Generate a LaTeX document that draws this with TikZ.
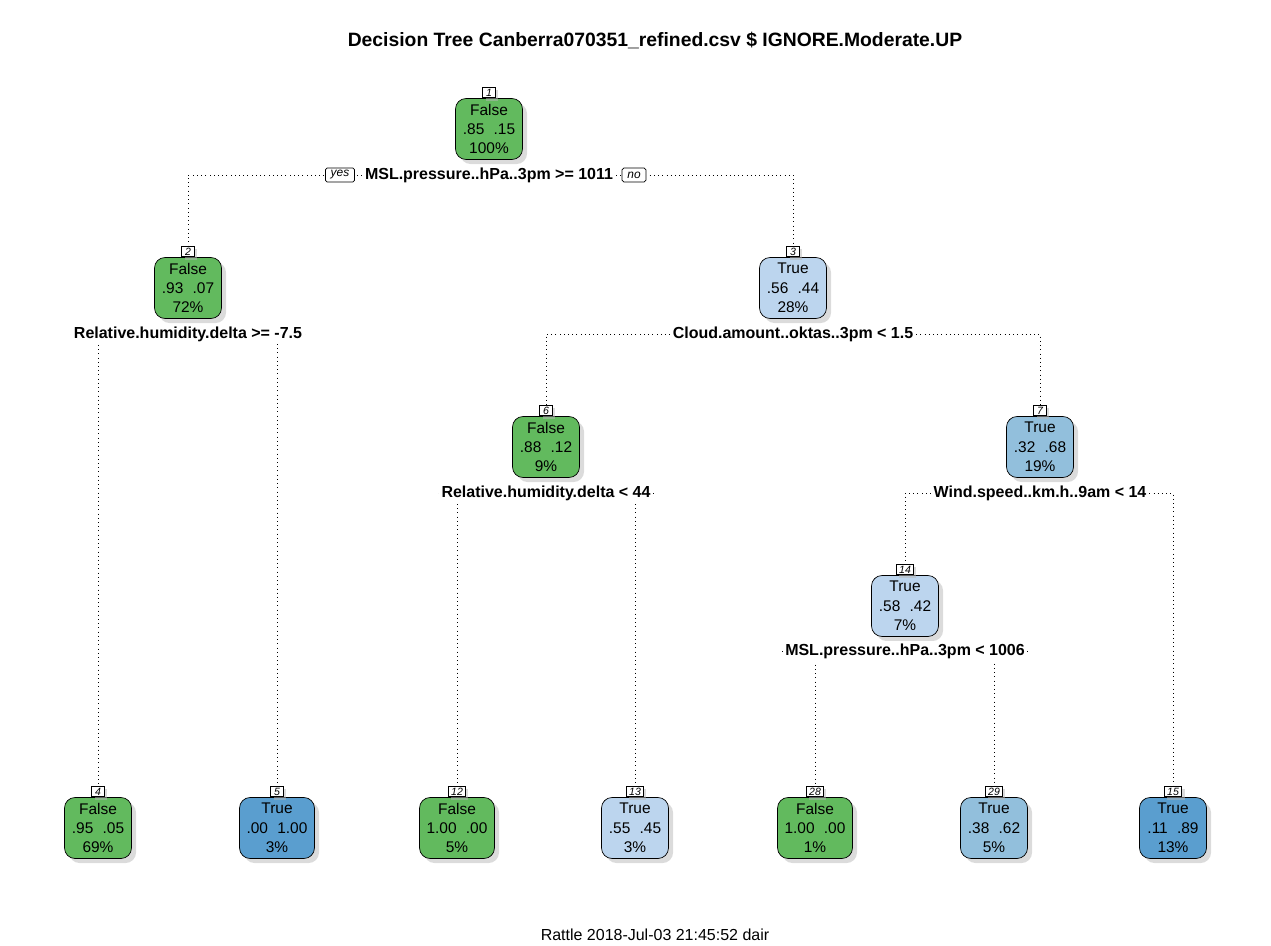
\documentclass[tikz,border=0pt]{standalone}
\usepackage{fontspec}
\setmainfont{Liberation Sans}
\usetikzlibrary{shadows,backgrounds}

\definecolor{grn}{HTML}{62BA5E}
\definecolor{lblue}{HTML}{BCD5EE}
\definecolor{mblue}{HTML}{92BFDC}
\definecolor{dblue}{HTML}{5A9ECF}

\newcommand{\gap}{\hspace{0.6em}}

\tikzset{
	box/.style={draw,rounded corners=6pt,minimum width=1.34cm,minimum height=1.22cm,align=center,inner xsep=4pt,inner ysep=0pt,
		font=\fontsize{8.8}{11}\selectfont,drop shadow={shadow xshift=2.6pt,shadow yshift=-2.6pt,fill=black!28}},
	num/.style={draw,fill=white,anchor=south,inner xsep=1.6pt,inner ysep=0.5pt,minimum width=0.25cm,minimum height=0.21cm,
		font=\fontsize{6}{6}\selectfont\itshape,drop shadow={shadow xshift=1.6pt,shadow yshift=-1.6pt,fill=black!28}},
	split/.style={fill=white,inner sep=1.5pt,font=\fontsize{9.1}{10}\selectfont\bfseries},
	yesno/.style={draw,fill=white,rounded corners=1pt,inner xsep=3pt,inner ysep=1pt,minimum height=0.28cm,font=\fontsize{6.8}{7}\selectfont\itshape},
	edge/.style={dotted,thin}
}

\begin{document}
\begin{tikzpicture}[x=0.02cm,y=-0.02cm]
	\useasboundingbox (0,0) rectangle (1271,946);
	
	%TITLE
	\node[font=\fontsize{11}{12}\selectfont\bfseries] (title) at (655,41) {Decision Tree Canberra070351\_refined.csv \$ IGNORE.Moderate.UP};
	\node[font=\fontsize{9.1}{10}\selectfont] (foot) at (655,935) {Rattle 2018-Jul-03 21:45:52 dair};
	
	%INNER NODES
	\node[box,fill=grn] (n1) at (489,129) {False\\.85\gap.15\\100\%};
	\node[box,fill=grn] (n2) at (188,288) {False\\.93\gap.07\\72\%};
	\node[box,fill=lblue] (n3) at (793,288) {True\\.56\gap.44\\28\%};
	\node[box,fill=grn] (n6) at (546,447) {False\\.88\gap.12\\9\%};
	\node[box,fill=mblue] (n7) at (1040,447) {True\\.32\gap.68\\19\%};
	\node[box,fill=lblue] (n14) at (905,606) {True\\.58\gap.42\\7\%};
	\foreach \nm in {1,2,3,6,7,14}
	\node[num] (l\nm) at (n\nm.north) {\nm};
	
	%LEAVES
	\foreach \nm/\x/\c/\cls/\p/\q/\pct in {4/98/grn/False/.95/.05/69,5/277/dblue/True/.00/1.00/3,
		12/457/grn/False/1.00/.00/5,13/635/lblue/True/.55/.45/3,28/815/grn/False/1.00/.00/1,
		29/994/mblue/True/.38/.62/5,15/1173/dblue/True/.11/.89/13}{
	\node[box,fill=\c] (n\nm) at (\x,828) {\cls\\\p\gap\q\\\pct\%};
	\node[num] (l\nm) at (n\nm.north) {\nm};
	}
	
	%SPLITS
	\node[split] (s1) at (489,175) {MSL.pressure..hPa..3pm >= 1011};
	\node[split] (s2) at (188,334) {Relative.humidity.delta >= -7.5};
	\node[split] (s3) at (793,334) {Cloud.amount..oktas..3pm < 1.5};
	\node[split] (s6) at (546,493) {Relative.humidity.delta < 44};
	\node[split] (s7) at (1040,493) {Wind.speed..km.h..9am < 14};
	\node[split] (s14) at (905,651) {MSL.pressure..hPa..3pm < 1006};
	\node[yesno] (yes) at (340,175) {yes};
	\node[yesno] (no) at (634,175) {no};
	
	%EDGES
	\begin{scope}[on background layer]
	\foreach \s/\a/\b in {1/2/3,2/4/5,3/6/7,6/12/13,7/14/15,14/28/29}{
	\draw[edge] (s\s) -| (l\a.north);
	\draw[edge] (s\s) -| (l\b.north);
	}
	\end{scope}
\end{tikzpicture}
\end{document}
